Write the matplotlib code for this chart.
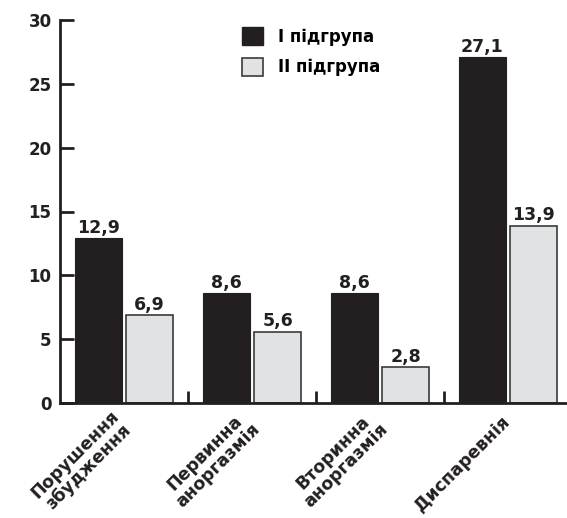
import numpy as np
import matplotlib.pyplot as plt
from matplotlib.patches import Patch

plt.rcParams['font.family'] = ['DejaVu Sans']
plt.rcParams['font.weight'] = 'bold'

categories = ['Порушення\nзбудження', 'Первинна\nаноргазмія', 'Вторинна\nаноргазмія', 'Диспаревнія']
group1 = [12.9, 8.6, 8.6, 27.1]
group2 = [6.9, 5.6, 2.8, 13.9]
series_names = ['I підгрупа', 'II підгрупа']
yticks = [0, 5, 10, 15, 20, 25, 30]

dark = '#231f20'
light = '#e1e2e4'
edge = '#3a3a3a'

fig = plt.figure(figsize=(5.67, 5.18), dpi=100)
ax = fig.add_axes([60 / 567, 115 / 518, 507 / 567, 383 / 518])

x = np.arange(len(categories))
w = 0.365
b1 = ax.bar(x - 0.2, group1, w, color=dark, edgecolor=dark, linewidth=0.8)
b2 = ax.bar(x + 0.2, group2, w, color=light, edgecolor=edge, linewidth=1.2)

for bars, vals in ((b1, group1), (b2, group2)):
    for r, v in zip(bars, vals):
        ax.annotate(f'{v:.1f}'.replace('.', ','),
                    xy=(r.get_x() + r.get_width() / 2, v), xytext=(0, 1),
                    textcoords='offset points', ha='center', va='bottom',
                    fontsize=12.5, fontweight='bold', color=dark)

ax.set_xlim(-0.5, 3.46)
ax.set_ylim(0, 30)
ax.set_yticks(yticks)
ax.set_yticklabels([str(t) for t in yticks], fontsize=12, fontweight='bold', color=dark)
ax.tick_params(axis='y', direction='in', length=10, width=2, pad=6, color=dark)

# group separators on the x axis, labels at group centres
ax.set_xticks(x[:-1] + 0.5)
ax.set_xticklabels([])
ax.tick_params(axis='x', direction='in', length=9, width=2, color=dark)
for xi, lab in zip(x, categories):
    ax.annotate(lab, xy=(xi, 0), xycoords='data', xytext=(-1, -12),
                textcoords='offset points', rotation=45, rotation_mode='anchor',
                ha='right', va='center', multialignment='center',
                fontsize=12.5, fontweight='bold', color=dark, linespacing=1.0,
                annotation_clip=False)

for s in ['top', 'right']:
    ax.spines[s].set_visible(False)
for s in ['left', 'bottom']:
    ax.spines[s].set_linewidth(2)
    ax.spines[s].set_color(dark)

handles = [Patch(facecolor=dark, edgecolor=dark),
           Patch(facecolor=light, edgecolor=edge, linewidth=1.2)]
ax.legend(handles, series_names, loc='upper left', bbox_to_anchor=(0.335, 1.012),
          frameon=False, prop={'size': 12, 'weight': 'bold'},
          handlelength=1.3, handleheight=1.3, handletextpad=0.9, labelspacing=0.72,
          borderaxespad=0.3)

fig.savefig('out.png', dpi=100)
